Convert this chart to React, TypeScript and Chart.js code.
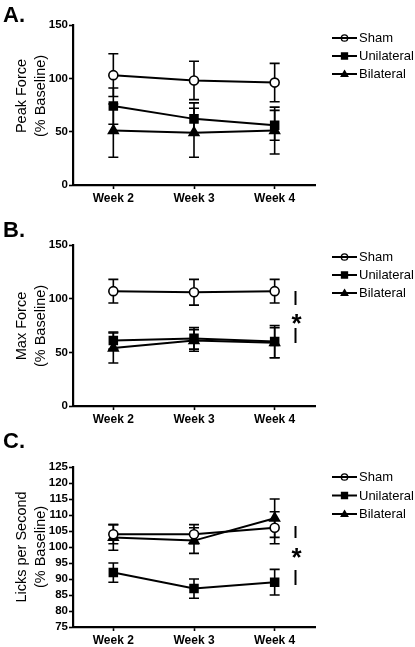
import React, { useEffect, useRef } from "react";
import { Chart, registerables } from "chart.js";
Chart.register(...registerables);

const FONT = "'Liberation Sans', Arial, Helvetica, sans-serif";

const weekLabels = ["Week 2", "Week 3", "Week 4"];
const weekX = [2, 3, 4];
const groups = ["Sham", "Unilateral", "Bilateral"];

// Panel A: Peak Force (% Baseline)
const peakSham = [103, 98, 96];
const peakShamErr = [20, 18, 18];
const peakUni = [74, 62, 56];
const peakUniErr = [17, 15, 14];
const peakBil = [51, 49, 51];
const peakBilErr = [25, 23, 22];
const peakTicks = [0, 50, 100, 150];

// Panel B: Max Force (% Baseline)
const maxSham = [107, 106, 107];
const maxShamErr = [11, 12, 11];
const maxUni = [61, 63, 60];
const maxUniErr = [8, 10, 15];
const maxBil = [54, 61, 59];
const maxBilErr = [14, 10, 14];
const maxTicks = [0, 50, 100, 150];

// Panel C: Licks per Second (% Baseline)
const lickSham = [104, 104, 106];
const lickShamErr = [3, 3, 5];
const lickUni = [92, 87, 89];
const lickUniErr = [3, 3, 4];
const lickBil = [103, 102, 109];
const lickBilErr = [4, 4, 6];
const lickTicks = [75, 80, 85, 90, 95, 100, 105, 110, 115, 120, 125];

const pointStyles = ["circle", "rect", "triangle"];
const pointRadii = [4.5, 5.6, 5.6];
const pointFills = ["#ffffff", "#000000", "#000000"];

type PanelDef = {
  letter: string;
  title: string[];
  series: number[][];
  errors: number[][];
  ticks: number[];
  top: number;
  height: number;
  plotTop: number;
  plotBottom: number;
  titleY: number;
  letterY: number;
  legendY: number[];
  sig: null | { x: number; bars: [number, number][]; starY: number };
};

const panels: PanelDef[] = [
  {
    letter: "A.",
    title: ["Peak Force", "(% Baseline)"],
    series: [peakSham, peakUni, peakBil],
    errors: [peakShamErr, peakUniErr, peakBilErr],
    ticks: peakTicks,
    top: 0,
    height: 215,
    plotTop: 25,
    plotBottom: 185,
    titleY: 96,
    letterY: 22,
    legendY: [38, 56, 74],
    sig: null,
  },
  {
    letter: "B.",
    title: ["Max Force", "(% Baseline)"],
    series: [maxSham, maxUni, maxBil],
    errors: [maxShamErr, maxUniErr, maxBilErr],
    ticks: maxTicks,
    top: 215,
    height: 215,
    plotTop: 30,
    plotBottom: 191,
    titleY: 111,
    letterY: 22,
    legendY: [42, 60, 78],
    sig: { x: 295.5, bars: [[76, 90], [113, 128]], starY: 103 },
  },
  {
    letter: "C.",
    title: ["Licks per Second", "(% Baseline)"],
    series: [lickSham, lickUni, lickBil],
    errors: [lickShamErr, lickUniErr, lickBilErr],
    ticks: lickTicks,
    top: 430,
    height: 217,
    plotTop: 37,
    plotBottom: 197,
    titleY: 117,
    letterY: 18,
    legendY: [47, 65.5, 84],
    sig: { x: 295.5, bars: [[96, 108], [140, 155]], starY: 122 },
  },
];

const PLOT_LEFT = 73;
const PLOT_RIGHT = 315;
const W = 415;

function drawMarker(ctx: CanvasRenderingContext2D, style: string, x: number, y: number, r: number, fill: boolean) {
  ctx.beginPath();
  if (style === "circle") {
    ctx.arc(x, y, r, 0, Math.PI * 2);
  } else if (style === "rect") {
    ctx.rect(x - r, y - r, 2 * r, 2 * r);
  } else {
    ctx.moveTo(x, y - r * 1.1);
    ctx.lineTo(x + r * 1.1, y + r * 0.8);
    ctx.lineTo(x - r * 1.1, y + r * 0.8);
    ctx.closePath();
  }
  if (fill) ctx.fill();
  ctx.stroke();
}

const extrasPlugin = {
  id: "extras",
  beforeDatasetsDraw(chart: any) {
    const ctx = chart.ctx as CanvasRenderingContext2D;
    const xs = chart.scales.x;
    const ys = chart.scales.y;
    ctx.save();
    ctx.strokeStyle = "#000";
    ctx.lineWidth = 1.6;
    chart.data.datasets.forEach((ds: any) => {
      ds.data.forEach((p: any, i: number) => {
        const e = ds.errorValues[i];
        const px = xs.getPixelForValue(p.x);
        const yt = ys.getPixelForValue(p.y + e);
        const yb = ys.getPixelForValue(p.y - e);
        ctx.beginPath();
        ctx.moveTo(px, yt);
        ctx.lineTo(px, yb);
        ctx.moveTo(px - 5, yt);
        ctx.lineTo(px + 5, yt);
        ctx.moveTo(px - 5, yb);
        ctx.lineTo(px + 5, yb);
        ctx.stroke();
      });
    });
    ctx.restore();
  },
  afterDraw(chart: any, _args: any, opts: any) {
    const ctx = chart.ctx as CanvasRenderingContext2D;
    ctx.save();
    ctx.fillStyle = "#000";
    // y-axis title (two lines, rotated)
    ctx.font = `14.5px ${FONT}`;
    ctx.textAlign = "center";
    ctx.textBaseline = "middle";
    opts.title.forEach((line: string, i: number) => {
      ctx.save();
      ctx.translate(22 + i * 19, opts.titleY);
      ctx.rotate(-Math.PI / 2);
      ctx.fillText(line, 0, 0);
      ctx.restore();
    });
    // panel letter
    ctx.font = `bold 22px ${FONT}`;
    ctx.textAlign = "left";
    ctx.textBaseline = "alphabetic";
    ctx.fillText(opts.letter, 3, opts.letterY);
    // legend
    ctx.font = `13px ${FONT}`;
    ctx.textBaseline = "middle";
    chart.data.datasets.forEach((ds: any, i: number) => {
      const y = opts.legendY[i];
      ctx.strokeStyle = "#000";
      ctx.fillStyle = "#000";
      ctx.lineWidth = 2;
      ctx.beginPath();
      ctx.moveTo(332, y);
      ctx.lineTo(357, y);
      ctx.stroke();
      ctx.lineWidth = 1.3;
      const st = pointStyles[i];
      drawMarker(ctx, st, 344.5, y, st === "circle" ? 3.2 : 3, st !== "circle");
      ctx.fillStyle = "#000";
      ctx.fillText(ds.label, 359, y + 0.5);
    });
    // significance marker
    if (opts.sig) {
      ctx.strokeStyle = "#000";
      ctx.lineWidth = 2;
      opts.sig.bars.forEach((b: [number, number]) => {
        ctx.beginPath();
        ctx.moveTo(opts.sig.x, b[0]);
        ctx.lineTo(opts.sig.x, b[1]);
        ctx.stroke();
      });
      ctx.font = `bold 26px ${FONT}`;
      ctx.textAlign = "center";
      ctx.textBaseline = "alphabetic";
      ctx.fillText("*", opts.sig.x + 1, opts.sig.starY + 14);
    }
    ctx.restore();
  },
};

function PanelChart({ def }: { def: PanelDef }) {
  const ref = useRef<HTMLCanvasElement | null>(null);
  useEffect(() => {
    if (!ref.current) return;
    const datasets = def.series.map((vals, si) => ({
      label: groups[si],
      data: vals.map((v, i) => ({ x: weekX[i], y: v })),
      errorValues: def.errors[si],
      borderColor: "#000",
      borderWidth: 2,
      backgroundColor: pointFills[si],
      pointStyle: pointStyles[si],
      pointRadius: pointRadii[si],
      pointBorderWidth: 1.6,
      pointBorderColor: "#000",
      pointBackgroundColor: pointFills[si],
      tension: 0,
      fill: false,
    }));
    const yMin = def.ticks[0];
    const yMax = def.ticks[def.ticks.length - 1];
    const chart = new Chart(ref.current, {
      type: "line",
      data: { datasets: datasets as any },
      plugins: [extrasPlugin as any],
      options: {
        animation: false,
        responsive: false,
        devicePixelRatio: 1,
        layout: { padding: { top: def.plotTop, right: W - PLOT_RIGHT, left: 0, bottom: 0 } },
        plugins: {
          legend: { display: false },
          tooltip: { enabled: false },
          extras: {
            letter: def.letter,
            letterY: def.letterY,
            legendY: def.legendY,
            title: def.title,
            titleY: def.titleY,
            sig: def.sig,
          },
        } as any,
        scales: {
          x: {
            type: "linear",
            min: 1.5,
            max: 4.5,
            afterBuildTicks: (scale: any) => {
              scale.ticks = weekX.map((v) => ({ value: v }));
            },
            afterFit: (scale: any) => {
              scale.height = def.height - def.plotBottom;
            },
            ticks: {
              callback: (v: any) => weekLabels[weekX.indexOf(Number(v))] ?? "",
              color: "#000",
              font: { family: FONT, size: 12, weight: "bold" },
              padding: 2,
              maxRotation: 0,
              autoSkip: false,
            },
            grid: {
              drawOnChartArea: false,
              drawTicks: true,
              tickLength: 4,
              tickWidth: 1.6,
              tickColor: "#000",
              color: "#000",
            },
            border: { display: true, color: "#000", width: 2.2 },
          },
          y: {
            type: "linear",
            min: yMin,
            max: yMax,
            afterBuildTicks: (scale: any) => {
              scale.ticks = def.ticks.map((v) => ({ value: v }));
            },
            afterFit: (scale: any) => {
              scale.width = PLOT_LEFT;
            },
            ticks: {
              color: "#000",
              font: { family: FONT, size: 11.5, weight: "bold" },
              padding: 1,
              autoSkip: false,
            },
            grid: {
              drawOnChartArea: false,
              drawTicks: true,
              tickLength: 4,
              tickWidth: 1.6,
              tickColor: "#000",
              color: "#000",
            },
            border: { display: true, color: "#000", width: 2.2 },
            title: { display: false },
          },
        },
      } as any,
    });
    return () => chart.destroy();
  }, [def]);
  return (
    <canvas
      ref={ref}
      width={W}
      height={def.height}
      style={{ position: "absolute", left: 0, top: def.top, width: W, height: def.height }}
    />
  );
}

export default function App() {
  return (
    <div style={{ position: "absolute", left: 0, top: 0, width: W, height: 647, background: "#fff", overflow: "hidden" }}>
      {panels.map((p) => (
        <PanelChart key={p.letter} def={p} />
      ))}
    </div>
  );
}
